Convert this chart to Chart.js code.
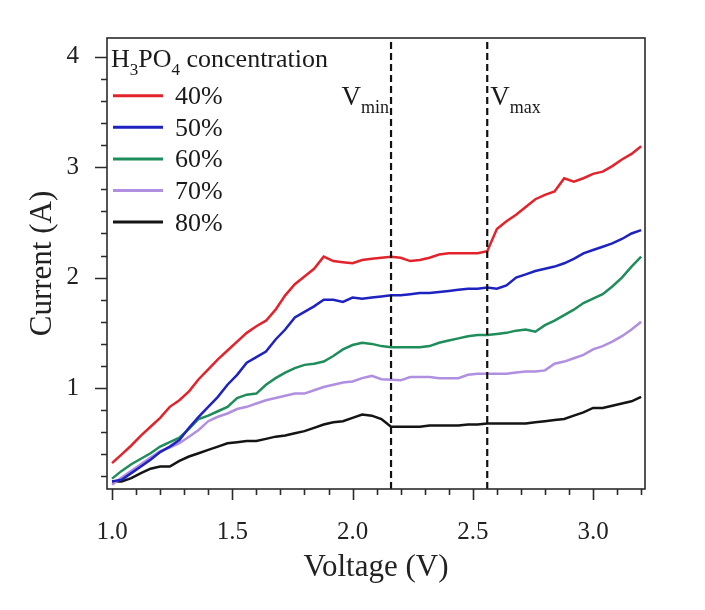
<!DOCTYPE html>
<html>
<head>
<meta charset="utf-8">
<script src="https://cdn.jsdelivr.net/npm/chart.js@4.4.1/dist/chart.umd.min.js"></script>
<style>
  html, body { margin: 0; padding: 0; background: #fff; }
  canvas { display: block; }
</style>
</head>
<body>
<canvas id="ivChart" width="705" height="610"></canvas>
<script>
const voltage = [
  1.00, 1.04, 1.08, 1.12, 1.16, 1.20, 1.24, 1.28, 1.32, 1.36,
  1.40, 1.44, 1.48, 1.52, 1.56, 1.60, 1.64, 1.68, 1.72, 1.76,
  1.80, 1.84, 1.88, 1.92, 1.96, 2.00, 2.04, 2.08, 2.12, 2.16,
  2.20, 2.24, 2.28, 2.32, 2.36, 2.40, 2.44, 2.48, 2.52, 2.56,
  2.60, 2.64, 2.68, 2.72, 2.76, 2.80, 2.84, 2.88, 2.92, 2.96,
  3.00, 3.04, 3.08, 3.12, 3.16, 3.20
];
const current40 = [
  0.32, 0.40, 0.48, 0.57, 0.65, 0.73, 0.83, 0.89, 0.97, 1.08,
  1.17, 1.26, 1.34, 1.42, 1.50, 1.56, 1.61, 1.71, 1.84, 1.94,
  2.01, 2.08, 2.19, 2.15, 2.14, 2.13, 2.16, 2.17, 2.18, 2.19,
  2.18, 2.15, 2.16, 2.18, 2.21, 2.22, 2.22, 2.22, 2.22, 2.24,
  2.44, 2.51, 2.57, 2.64, 2.71, 2.75, 2.78, 2.90, 2.87, 2.90,
  2.94, 2.96, 3.01, 3.07, 3.12, 3.19
];
const current50 = [
  0.155, 0.17, 0.23, 0.29, 0.35, 0.42, 0.47, 0.53, 0.64, 0.74,
  0.83, 0.92, 1.03, 1.12, 1.23, 1.28, 1.33, 1.44, 1.53, 1.64,
  1.69, 1.74, 1.80, 1.80, 1.78, 1.82, 1.81, 1.82, 1.83, 1.84,
  1.84, 1.85, 1.86, 1.86, 1.87, 1.88, 1.89, 1.90, 1.90, 1.91,
  1.90, 1.93, 2.00, 2.03, 2.06, 2.08, 2.10, 2.13, 2.17, 2.22,
  2.25, 2.28, 2.31, 2.35, 2.40, 2.43
];
const current60 = [
  0.18, 0.25, 0.31, 0.36, 0.41, 0.47, 0.51, 0.55, 0.63, 0.72,
  0.75, 0.79, 0.83, 0.91, 0.94, 0.95, 1.03, 1.09, 1.14, 1.18,
  1.21, 1.22, 1.24, 1.29, 1.35, 1.39, 1.41, 1.40, 1.38, 1.37,
  1.37, 1.37, 1.37, 1.38, 1.41, 1.43, 1.45, 1.47, 1.48, 1.48,
  1.49, 1.50, 1.52, 1.53, 1.51, 1.57, 1.61, 1.66, 1.71, 1.77,
  1.81, 1.85, 1.92, 2.00, 2.10, 2.19
];
const current70 = [
  0.125, 0.19, 0.25, 0.31, 0.37, 0.43, 0.46, 0.50, 0.56, 0.62,
  0.70, 0.74, 0.77, 0.81, 0.83, 0.86, 0.89, 0.91, 0.93, 0.95,
  0.95, 0.98, 1.01, 1.03, 1.05, 1.06, 1.09, 1.11, 1.08, 1.075,
  1.07, 1.10, 1.10, 1.10, 1.09, 1.09, 1.09, 1.12, 1.13, 1.13,
  1.13, 1.13, 1.14, 1.15, 1.15, 1.16, 1.22, 1.24, 1.27, 1.30,
  1.35, 1.38, 1.42, 1.47, 1.53, 1.60
];
const current80 = [
  0.155, 0.155, 0.185, 0.23, 0.27, 0.29, 0.29, 0.34, 0.38, 0.41,
  0.44, 0.47, 0.50, 0.51, 0.52, 0.52, 0.54, 0.56, 0.57, 0.59,
  0.61, 0.64, 0.67, 0.69, 0.70, 0.73, 0.76, 0.75, 0.72, 0.65,
  0.65, 0.65, 0.65, 0.66, 0.66, 0.66, 0.66, 0.67, 0.67, 0.68,
  0.68, 0.68, 0.68, 0.68, 0.69, 0.70, 0.71, 0.72, 0.75, 0.78,
  0.82, 0.82, 0.84, 0.86, 0.88, 0.92
];
const seriesLabels = ["40%", "50%", "60%", "70%", "80%"];
const seriesColors = ["#e3232b", "#1d22c0", "#1f8d5b", "#b08fe0", "#141414"];
const vMin = 2.16;
const vMax = 2.56;

const xTickValues = [1.0, 1.1, 1.2, 1.3, 1.4, 1.5, 1.6, 1.7, 1.8, 1.9, 2.0, 2.1,
  2.2, 2.3, 2.4, 2.5, 2.6, 2.7, 2.8, 2.9, 3.0, 3.1, 3.2];
const xTickLabels = ["1.0", "1.5", "2.0", "2.5", "3.0"];
const yTickValues = [0.2, 0.4, 0.6, 0.8, 1, 1.2, 1.4, 1.6, 1.8, 2, 2.2, 2.4, 2.6,
  2.8, 3, 3.2, 3.4, 3.6, 3.8, 4];
const yTickLabels = ["1", "2", "3", "4"];

const xRange = [0.979, 3.216];
const yRange = [0.086, 4.17];
const FONT = "'Liberation Serif', 'Times New Roman', serif";

const isMajorX = (v) => xTickLabels.includes(v.toFixed(1));
const isMajorY = (v) => yTickLabels.includes(String(v));

const series = [current40, current50, current60, current70, current80];
const dataSets = series.map((vals, i) => ({
  label: seriesLabels[i],
  data: voltage.map((v, k) => ({ x: v, y: vals[k] })),
  borderColor: seriesColors[i],
  borderWidth: 2.5,
  pointRadius: 0,
  tension: 0,
  fill: false,
}));
[vMin, vMax].forEach((v) => {
  dataSets.unshift({
    label: "",
    data: [{ x: v, y: yRange[0] }, { x: v, y: yRange[1] }],
    borderColor: "#111",
    borderWidth: 2.2,
    borderDash: [7, 4],
    pointRadius: 0,
  });
});

// draws text with a lowered, smaller part: [[text, isSub], ...]
function drawParts(ctx, parts, x, y, size, align) {
  const subSize = Math.round(size * 0.65);
  let total = 0;
  parts.forEach(([t, sub]) => {
    ctx.font = `${sub ? subSize : size}px ${FONT}`;
    total += ctx.measureText(t).width;
  });
  let cx = align === "right" ? x - total : x;
  parts.forEach(([t, sub]) => {
    ctx.font = `${sub ? subSize : size}px ${FONT}`;
    ctx.fillText(t, cx, sub ? y + size * 0.3 : y);
    cx += ctx.measureText(t).width;
  });
}

const framePlugin = {
  id: "frame",
  beforeDraw(chart) {
    const ctx = chart.ctx;
    ctx.save();
    ctx.fillStyle = "#fff";
    ctx.fillRect(0, 0, chart.width, chart.height);
    ctx.restore();
  },
  afterDraw(chart) {
    const { ctx, chartArea: a, scales: { x, y } } = chart;
    ctx.save();
    ctx.strokeStyle = "#2b2b2b";
    ctx.lineWidth = 1.6;
    ctx.strokeRect(a.left, a.top, a.right - a.left, a.bottom - a.top);

    ctx.beginPath();
    xTickValues.forEach((v) => {
      const px = Math.round(x.getPixelForValue(v)) + 0.5;
      ctx.moveTo(px, a.bottom);
      ctx.lineTo(px, a.bottom + (isMajorX(v) ? 11 : 6));
    });
    yTickValues.forEach((v) => {
      const py = Math.round(y.getPixelForValue(v)) + 0.5;
      ctx.moveTo(a.left, py);
      ctx.lineTo(a.left - (isMajorY(v) ? 12 : 6), py);
    });
    ctx.stroke();

    ctx.fillStyle = "#1a1a1a";
    ctx.textBaseline = "alphabetic";
    ctx.textAlign = "left";
    drawParts(ctx, [["V", 0], ["min", 1]], x.getPixelForValue(vMin) - 2, a.top + 67, 27, "right");
    drawParts(ctx, [["V", 0], ["max", 1]], x.getPixelForValue(vMax) + 3, a.top + 67, 27, "left");

    // legend
    drawParts(ctx, [["H", 0], ["3", 1], ["PO", 0], ["4", 1], [" concentration", 0]],
      a.left + 4, a.top + 29, 26, "left");
    seriesLabels.forEach((lab, i) => {
      const ly = a.top + 57.7 + i * 31.6;
      ctx.strokeStyle = seriesColors[i];
      ctx.lineWidth = 3;
      ctx.beginPath();
      ctx.moveTo(a.left + 6, ly);
      ctx.lineTo(a.left + 56, ly);
      ctx.stroke();
      ctx.font = `26px ${FONT}`;
      ctx.fillText(lab, a.left + 68, ly + 8.5);
    });
    ctx.restore();
  },
};

new Chart(document.getElementById("ivChart"), {
  type: "line",
  data: { datasets: dataSets },
  options: {
    responsive: false,
    animation: false,
    devicePixelRatio: 1,
    layout: { padding: { left: 0, top: 38, right: 60, bottom: 0 } },
    plugins: { legend: { display: false }, tooltip: { enabled: false } },
    scales: {
      x: {
        type: "linear",
        min: xRange[0],
        max: xRange[1],
        afterBuildTicks: (s) => { s.ticks = xTickValues.map((v) => ({ value: v })); },
        afterFit: (s) => { s.height = 121; },
        grid: { display: false },
        border: { display: false },
        ticks: {
          autoSkip: false,
          maxRotation: 0,
          padding: 20,
          color: "#222",
          font: { family: FONT, size: 25 },
          callback: (v) => (isMajorX(v) ? v.toFixed(1) : ""),
        },
        title: {
          display: true,
          text: "Voltage (V)",
          color: "#222",
          font: { family: FONT, size: 31 },
          padding: { top: 0, bottom: 24 },
        },
      },
      y: {
        min: yRange[0],
        max: yRange[1],
        afterBuildTicks: (s) => { s.ticks = yTickValues.map((v) => ({ value: v })); },
        afterFit: (s) => { s.width = 107; },
        grid: { display: false },
        border: { display: false },
        ticks: {
          autoSkip: false,
          padding: 20,
          color: "#222",
          font: { family: FONT, size: 25 },
          callback: (v) => (isMajorY(v) ? String(v) : ""),
        },
        title: {
          display: true,
          text: "Current (A)",
          color: "#222",
          font: { family: FONT, size: 31 },
          padding: { top: 24, bottom: 0 },
        },
      },
    },
  },
  plugins: [framePlugin],
});
</script>
</body>
</html>
